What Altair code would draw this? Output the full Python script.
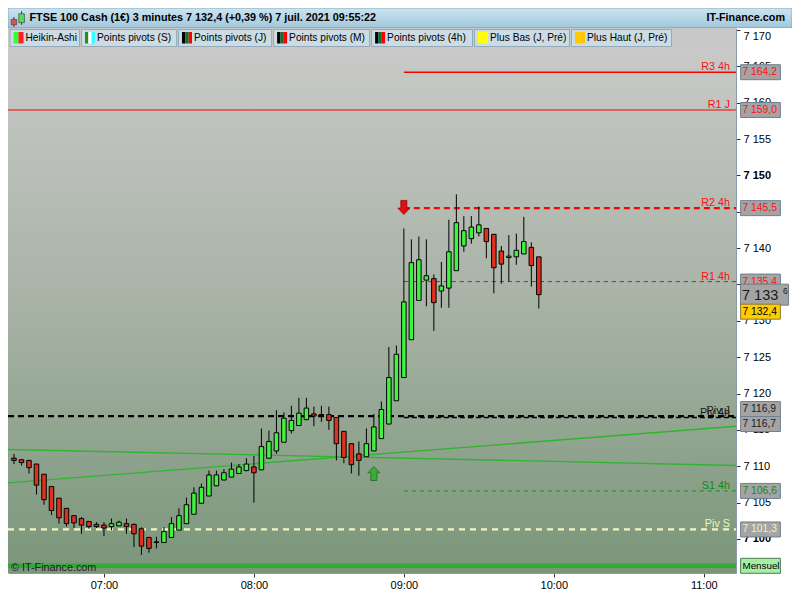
import altair as alt
import pandas as pd

# ---------------- data ----------------
first_candle_min = 6 * 60 + 24      # 06:24, 3-minute Heikin-Ashi candles
candle_step_min = 3

opens  = [7111.1, 7110.9, 7110.8, 7110.3, 7108.9, 7107.2, 7105.6, 7104.2, 7103.2, 7102.8,
          7102.4, 7102.0, 7101.9, 7101.7, 7101.8, 7102.1, 7102.0, 7101.4, 7100.2, 7099.5,
          7099.5, 7100.2, 7101.2, 7102.1, 7103.4, 7104.9, 7105.9, 7107.3, 7108.1, 7108.5,
          7109.0, 7109.4, 7109.9, 7109.5, 7111.1, 7112.1, 7113.3, 7114.9, 7115.6, 7116.4,
          7117.2, 7117.1, 7117.1, 7116.7, 7114.8, 7113.1, 7111.7, 7111.3, 7112.1, 7113.8,
          7115.8, 7119.0, 7122.2, 7127.4, 7132.8, 7135.6, 7135.8, 7134.1, 7134.5, 7136.9,
          7140.3, 7141.3, 7142.1, 7142.7, 7141.9, 7139.6, 7138.7, 7138.8, 7139.2, 7140.1,
          7138.8]
highs  = [7111.7, 7110.9, 7110.8, 7110.3, 7108.9, 7107.2, 7105.6, 7104.2, 7103.2, 7103.0,
          7102.4, 7102.3, 7102.3, 7102.8, 7102.5, 7102.8, 7102.1, 7101.6, 7100.3, 7100.3,
          7101.6, 7103.0, 7104.2, 7105.7, 7107.1, 7107.6, 7109.4, 7109.4, 7109.6, 7110.5,
          7110.3, 7111.1, 7111.4, 7115.2, 7114.9, 7117.7, 7117.4, 7118.3, 7119.4, 7119.4,
          7118.2, 7118.3, 7118.2, 7116.7, 7114.8, 7113.1, 7113.4, 7115.2, 7117.2, 7118.9,
          7126.4, 7126.6, 7142.7, 7141.2, 7141.6, 7141.2, 7136.4, 7138.1, 7143.9, 7147.4,
          7144.4, 7144.4, 7145.7, 7142.7, 7141.9, 7140.3, 7141.8, 7142.0, 7144.3, 7140.8,
          7138.8]
lows   = [7110.3, 7110.1, 7109.0, 7106.1, 7104.7, 7103.3, 7102.1, 7101.7, 7101.5, 7100.7,
          7101.4, 7101.5, 7100.4, 7101.2, 7101.8, 7100.7, 7098.9, 7097.8, 7098.1, 7098.7,
          7099.5, 7100.2, 7101.2, 7102.1, 7103.4, 7104.9, 7105.9, 7107.3, 7108.1, 7108.5,
          7109.0, 7109.3, 7105.0, 7109.5, 7111.1, 7111.7, 7113.3, 7114.5, 7115.6, 7116.4,
          7115.5, 7116.1, 7115.0, 7110.8, 7110.4, 7109.0, 7108.7, 7111.3, 7112.1, 7113.8,
          7115.8, 7119.0, 7122.2, 7127.4, 7132.8, 7132.0, 7128.6, 7131.8, 7131.8, 7136.9,
          7139.5, 7140.6, 7141.6, 7138.6, 7133.8, 7135.1, 7135.4, 7137.7, 7139.2, 7134.7,
          7131.7]
closes = [7110.8, 7110.5, 7109.8, 7107.4, 7105.4, 7103.9, 7102.9, 7102.1, 7102.2, 7101.9,
          7101.7, 7101.7, 7101.5, 7102.1, 7102.3, 7101.7, 7100.7, 7099.0, 7098.7, 7099.6,
          7101.0, 7102.1, 7103.2, 7104.7, 7106.3, 7107.1, 7108.8, 7108.8, 7109.1, 7109.6,
          7109.9, 7110.3, 7109.1, 7112.7, 7113.4, 7114.6, 7116.6, 7116.3, 7117.3, 7118.0,
          7116.9, 7117.0, 7116.3, 7113.1, 7111.2, 7110.2, 7110.8, 7113.1, 7115.4, 7117.8,
          7122.2, 7125.4, 7132.6, 7138.0, 7138.4, 7136.2, 7132.5, 7134.8, 7139.5, 7143.5,
          7142.4, 7142.9, 7143.2, 7140.9, 7137.3, 7137.8, 7138.9, 7139.7, 7140.9, 7137.6,
          7133.6]

# visible ranges (minutes since midnight / price)
x_min, x_max = 381.6, 672.9
y_min, y_max = 7095.31, 7170.28
x_ticks = [420, 480, 540, 600, 660]
y_ticks = list(range(7100, 7171, 5))

# pivot levels
level_names  = ["R3 4h", "R1 J", "R2 4h", "R1 4h", "Piv J", "Piv 4h", "S1 4h", "Piv S", "Mensuel"]
level_values = [7164.2, 7159.0, 7145.5, 7135.4, 7116.9, 7116.7, 7106.6, 7101.3, 7096.3]
level_start  = [540, None, 540, 540, None, 540, 540, None, None]   # None = whole day

# two trend lines (start / end price)
trend_a = [7112.3, 7110.1]
trend_b = [7107.7, 7115.5]

# signals
signal_times  = [540, 528]
signal_prices = [7145.6, 7109.0]

ha_close_last = 7133.6
last_price = 7132.4

title_text = "FTSE 100 Cash (1€) 3 minutes 7 132,4 (+0,39 %) 7 juil. 2021 09:55:22"
brand_text = "IT-Finance.com"
copyright_text = "© IT-Finance.com"
legend_labels = ["Heikin-Ashi", "Points pivots (S)", "Points pivots (J)", "Points pivots (M)",
                 "Points pivots (4h)", "Plus Bas (J, Pré)", "Plus Haut (J, Pré)"]
legend_icons = [["#33ff33", "#ff2020"], ["#1f8f1f", "#ffffff", "#33ffff"],
                ["#000000", "#0f6f2f", "#ff0000"], ["#000000", "#0f6f2f", "#ff0000"],
                ["#000000", "#0f6f2f", "#ff0000"], ["#ffff00"], ["#ffc800"]]

# ---------------- layout / style ----------------
W, H = 728, 545
FONT = "Liberation Sans"
GREEN, RED = "#3df53d", "#e0301e"
ONE = pd.DataFrame({"d": [0]})

styles = {
    "R3 4h":   dict(color="#ff0000", w=1.6, dash=[1, 0], text="#ff1010"),
    "R1 J":    dict(color="#ff0000", w=1.2, dash=[1, 0], text="#ff1010"),
    "R2 4h":   dict(color="#ff0000", w=2.2, dash=[6, 4], text="#ff1010"),
    "R1 4h":   dict(color="#ff0000", w=1.0, dash=[4, 4], text="#ff1010"),
    "Piv J":   dict(color="#000000", w=2.2, dash=[6, 4], text="#1a1a1a"),
    "Piv 4h":  dict(color="#000000", w=1.6, dash=[5, 3], text="#1a1a1a"),
    "S1 4h":   dict(color="#159015", w=1.0, dash=[4, 4], text="#138a13"),
    "Piv S":   dict(color="#f2f8c4", w=2.2, dash=[6, 5], text="#eef6b4"),
    "Mensuel": dict(color="#33aa33", w=4.5, dash=[1, 0], text=None),
}
box_offsets = {"Piv J": -7, "Piv 4h": 6.5}

def fr(v):
    return f"{v:,.1f}".replace(",", " ").replace(".", ",")

X_SCALE = alt.Scale(domain=[x_min, x_max], nice=False, zero=False, padding=0)
Y_SCALE = alt.Scale(domain=[y_min, y_max], nice=False, zero=False, padding=0)
X_AXIS = alt.Axis(values=x_ticks, title=None, grid=False, tickSize=4, tickColor="#333333",
                  domainColor="#8a9aaa", labelFont=FONT, labelFontSize=11, labelColor="#000000",
                  labelPadding=2, labelFlush=False,
                  labelExpr="(datum.value < 600 ? '0' : '') + floor(datum.value / 60) + ':00'")
Y_AXIS = alt.Axis(orient="right", values=y_ticks, title=None, grid=False, tickSize=4,
                  tickColor="#333333", domainColor="#8a9aaa", labelFont=FONT, labelFontSize=11,
                  labelColor="#000000", labelPadding=3, labelFlush=5,
                  labelFontWeight={"condition": {"test": "datum.value % 50 === 0", "value": "bold"},
                                   "value": "normal"},
                  labelExpr="replace(format(datum.value, ','), ',', ' ')")

def X(f):
    return alt.X(f, type="quantitative", scale=X_SCALE, axis=X_AXIS)

def Y(f):
    return alt.Y(f, type="quantitative", scale=Y_SCALE, axis=Y_AXIS)

def px_rect(x0, x1, y0, y1, **style):
    return alt.Chart(ONE).mark_rect(**style).encode(
        x=alt.value(x0), x2=alt.value(x1), y=alt.value(y0), y2=alt.value(y1))

def px_text(x, y, text, **style):
    return alt.Chart(ONE).mark_text(text=text, font=FONT, **style).encode(
        x=alt.value(x), y=alt.value(y))

layers = []

# background gradient
bg_grad = alt.Gradient(gradient="linear", x1=0, x2=0, y1=0, y2=1,
                       stops=[alt.GradientStop(offset=0, color="#cbcbcb"),
                              alt.GradientStop(offset=0.5, color="#a8b3a6"),
                              alt.GradientStop(offset=1, color="#7a967a")])
layers.append(px_rect(0, W, 0, H, fill=bg_grad))

# trend lines
for tv, col in [(trend_a, "#2fb52f"), (trend_b, "#2fb52f")]:
    d = pd.DataFrame({"x0": [x_min], "x1": [x_max], "v0": [tv[0]], "v1": [tv[1]]})
    layers.append(alt.Chart(d).mark_rule(color=col, strokeWidth=1.3).encode(
        x=X("x0"), x2=alt.X2("x1"), y=Y("v0"), y2=alt.Y2("v1")))

# level lines + labels
for name, val, start in zip(level_names, level_values, level_start):
    st = styles[name]
    d = pd.DataFrame({"x0": [x_min if start is None else start], "x1": [x_max],
                      "v": [val], "xl": [x_max]})
    layers.append(alt.Chart(d).mark_rule(color=st["color"], strokeWidth=st["w"],
                                         strokeDash=st["dash"]).encode(
        x=X("x0"), x2=alt.X2("x1"), y=Y("v")))
    if st["text"]:
        layers.append(alt.Chart(d).mark_text(text=name, font=FONT, fontSize=10.8, align="right",
                                             baseline="bottom", dx=-6, dy=0,
                                             color=st["text"]).encode(x=X("xl"), y=Y("v")))

# candles
times = [first_candle_min + candle_step_min * i for i in range(len(opens))]
cdf = pd.DataFrame({"t": times, "o": opens, "h": highs, "l": lows, "c": closes})
cdf["dir"] = ["up" if c >= o else "down" for o, c in zip(opens, closes)]
layers.append(alt.Chart(cdf).mark_rule(color="#000000", strokeWidth=1).encode(
    x=X("t"), y=Y("l"), y2=alt.Y2("h")))
layers.append(alt.Chart(cdf).mark_bar(size=4.5, stroke="#000000", strokeWidth=1).encode(
    x=X("t"), y=Y("o"), y2=alt.Y2("c"),
    fill=alt.Fill("dir:N", scale=alt.Scale(domain=["up", "down"], range=[GREEN, RED]),
                  legend=None)))

# signal arrows
down_path = "M-0.43,-1H0.43V0.1H0.86L0,1L-0.86,0.1H-0.43Z"
up_path = "M-0.43,1H0.43V-0.1H0.86L0,-1L-0.86,-0.1H-0.43Z"
sd = pd.DataFrame({"t": [signal_times[0]], "p": [signal_prices[0]]})
layers.append(alt.Chart(sd).mark_point(shape=down_path, size=196, filled=True, opacity=1,
                                       fill="#e01010", stroke="#a00000", strokeWidth=0.8).encode(
    x=X("t"), y=Y("p")))
su = pd.DataFrame({"t": [signal_times[1]], "p": [signal_prices[1]]})
layers.append(alt.Chart(su).mark_point(shape=up_path, size=196, filled=True, opacity=1,
                                       fill="#3aaa3a", stroke="#1c6c1c", strokeWidth=0.8).encode(
    x=X("t"), y=Y("p")))

# price-scale value boxes
box_path = "M-2.65,-1H2.65V1H-2.65Z"
big_path = "M-2.29,-1H2.29V1H-2.29Z"

def value_box(val, text, fill, stroke, tcolor, off=0, fsize=10.3):
    d = pd.DataFrame({"v": [val]})
    b = alt.Chart(d).mark_point(shape=box_path, size=225, filled=True, opacity=1, fill=fill,
                                stroke=stroke, strokeWidth=1, yOffset=off).encode(
        x=alt.value(W + 24.5), y=Y("v"))
    t = alt.Chart(d).mark_text(text=text, font=FONT, fontSize=fsize, align="left",
                               baseline="middle", color=tcolor, dy=off).encode(
        x=alt.value(W + 6.5), y=Y("v"))
    return [b, t]

for name, val in zip(level_names, level_values):
    if name == "Mensuel":
        layers += value_box(val, "Mensuel", "#a6eea6", "#4d7f4d", "#000000", 0, 9.8)
    else:
        tc = styles[name]["text"]
        layers += value_box(val, fr(val), "#a4a4a4", "#6f8090", tc, box_offsets.get(name, 0))

# last HA close (big box) and last price (yellow)
dl = pd.DataFrame({"v": [ha_close_last]})
big_txt = fr(ha_close_last)
layers.append(alt.Chart(dl).mark_point(shape=big_path, size=441, filled=True, opacity=1,
                                       fill="#a4a4a4", stroke="#6f8090", strokeWidth=1).encode(
    x=alt.value(W + 28.5), y=Y("v")))
layers.append(alt.Chart(dl).mark_text(text=big_txt.split(",")[0], font=FONT, fontSize=14.5,
                                      align="left", baseline="middle", color="#1a1a1a", dy=1).encode(
    x=alt.value(W + 6), y=Y("v")))
layers.append(alt.Chart(dl).mark_text(text=big_txt.split(",")[1], font=FONT, fontSize=8.5,
                                      align="left", baseline="middle", color="#1a1a1a", dy=-4).encode(
    x=alt.value(W + 47), y=Y("v")))
layers += value_box(last_price, fr(last_price), "#ffcc00", "#8a7a40", "#000000", 8.3)

# copyright
layers.append(px_text(3, 540, copyright_text, fontSize=10.8, align="left", baseline="middle",
                      color="#1e1e1e"))

# legend row
layers.append(px_rect(0, W, 0, 19, fill="#c8c8c8"))
item_x = [(2, 71.5), (73.5, 168.6), (170.5, 263.6), (265.6, 361.6), (363.6, 464.5),
          (466.5, 561.5), (563.5, 663.5)]
for (x0, x1), lab, icon in zip(item_x, legend_labels, legend_icons):
    layers.append(px_rect(x0, x1, 1.5, 18.5, fill="#ccdce4", stroke="#94aab8", strokeWidth=1))
    n = len(icon)
    wdt = 10.0 / n
    for j, col in enumerate(icon):
        layers.append(px_rect(x0 + 3.5 + j * wdt, x0 + 3.5 + (j + 1) * wdt, 4, 15.5, fill=col))
for (x0, x1), lab in zip(item_x, legend_labels):
    layers.append(px_text(x0 + 15.5, 10, lab, fontSize=10.2, align="left", baseline="middle",
                          color="#000000"))

# header bar
hdr_grad = alt.Gradient(gradient="linear", x1=0, x2=0, y1=0, y2=1,
                        stops=[alt.GradientStop(offset=0, color="#cbe4f0"),
                               alt.GradientStop(offset=1, color="#a2c8dc")])
layers.append(px_rect(0, W + 56, -20, -0.5, fill=hdr_grad, stroke="#7f9fb2", strokeWidth=0.8))
# small candle icon
layers.append(alt.Chart(ONE).mark_rule(color="#333333").encode(
    x=alt.value(5.9), y=alt.value(-10.9), y2=alt.value(-1.2)))
layers.append(px_rect(3.2, 8.6, -8.6, -3.2, fill="#e05050", stroke="#444444", strokeWidth=0.7))
layers.append(alt.Chart(ONE).mark_rule(color="#333333").encode(
    x=alt.value(13.6), y=alt.value(-16.8), y2=alt.value(-3.2)))
layers.append(px_rect(10.8, 16.4, -14.2, -5.4, fill="#50e050", stroke="#444444", strokeWidth=0.7))
layers.append(px_text(21.5, -10, title_text, fontSize=10.8, fontWeight="bold", align="left",
                      baseline="middle", color="#000000"))
layers.append(px_text(W + 49, -10, brand_text, fontSize=10.8, fontWeight="bold", align="right",
                      baseline="middle", color="#000000"))

chart = alt.layer(*layers).properties(
    width=W, height=H,
    autosize=alt.AutoSizeParams(type="none"),
    padding={"left": 0, "top": 20, "right": 56, "bottom": 19},
    background="#ffffff",
).configure_view(stroke=None)

chart.save("out.html", embed_options={"renderer": "svg", "actions": False})
